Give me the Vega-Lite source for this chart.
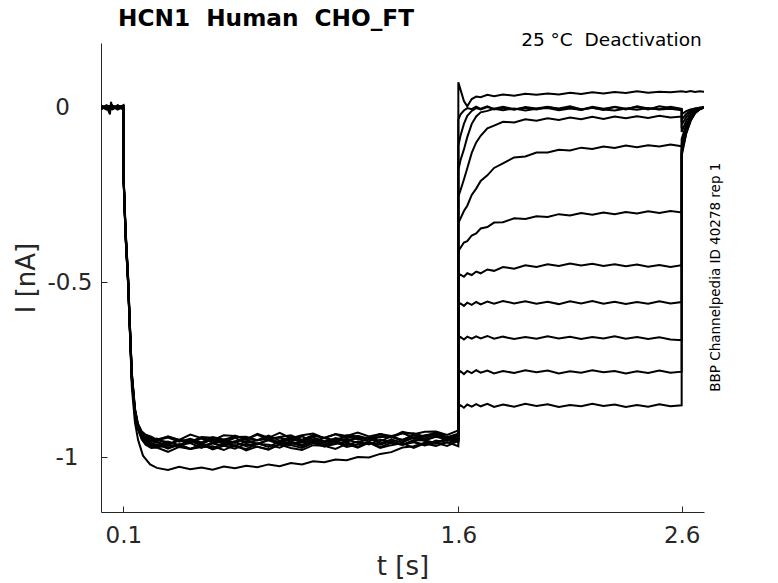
{
  "$schema": "https://vega.github.io/schema/vega-lite/v6.json",
  "width": 603,
  "height": 469,
  "autosize": {"type": "none"},
  "padding": {"left": 101, "top": 43, "right": 74, "bottom": 71},
  "background": "white",
  "layer": [
    {
      "data": {
        "values": [
          {"s":1,"t":0,"i":0.003},{"s":1,"t":0.025,"i":-0.004},{"s":1,"t":0.05,"i":0.005},{"s":1,"t":0.075,"i":-0.003},{"s":1,"t":0.1,"i":0.002},
          {"s":1,"t":0.1,"i":-0.18},{"s":1,"t":0.11,"i":-0.37},{"s":1,"t":0.121,"i":-0.5},{"s":1,"t":0.13,"i":-0.65},{"s":1,"t":0.138,"i":-0.8},{"s":1,"t":0.152,"i":-0.9},{"s":1,"t":0.166,"i":-0.95},{"s":1,"t":0.188,"i":-0.995},{"s":1,"t":0.22,"i":-1.02},
          {"s":1,"t":0.25,"i":-1.03},{"s":1,"t":0.3,"i":-1.036},{"s":1,"t":0.35,"i":-1.027},{"s":1,"t":0.4,"i":-1.034},{"s":1,"t":0.45,"i":-1.029},{"s":1,"t":0.5,"i":-1.035},{"s":1,"t":0.55,"i":-1.026},{"s":1,"t":0.6,"i":-1.031},{"s":1,"t":0.65,"i":-1.024},{"s":1,"t":0.7,"i":-1.028},{"s":1,"t":0.75,"i":-1.02},{"s":1,"t":0.8,"i":-1.025},{"s":1,"t":0.85,"i":-1.016},{"s":1,"t":0.9,"i":-1.02},{"s":1,"t":0.95,"i":-1.011},{"s":1,"t":1.0,"i":-1.014},{"s":1,"t":1.05,"i":-1.006},{"s":1,"t":1.1,"i":-1.008},{"s":1,"t":1.15,"i":-0.999},{"s":1,"t":1.2,"i":-1.0},{"s":1,"t":1.25,"i":-0.99},{"s":1,"t":1.3,"i":-0.985},{"s":1,"t":1.35,"i":-0.972},{"s":1,"t":1.4,"i":-0.968},{"s":1,"t":1.45,"i":-0.958},{"s":1,"t":1.5,"i":-0.956},{"s":1,"t":1.55,"i":-0.95},{"s":1,"t":1.6,"i":-0.948},
          {"s":1,"t":1.6,"i":0.072},{"s":1,"t":1.61,"i":0.05},{"s":1,"t":1.625,"i":0.018},{"s":1,"t":1.64,"i":0.003},{"s":1,"t":1.66,"i":0.024},{"s":1,"t":1.68,"i":0.031},{"s":1,"t":1.7,"i":0.029},{"s":1,"t":1.73,"i":0.036},{"s":1,"t":1.76,"i":0.032},{"s":1,"t":1.8,"i":0.037},{"s":1,"t":1.85,"i":0.033},{"s":1,"t":1.9,"i":0.039},{"s":1,"t":1.95,"i":0.036},{"s":1,"t":2.0,"i":0.04},{"s":1,"t":2.05,"i":0.037},{"s":1,"t":2.1,"i":0.042},{"s":1,"t":2.15,"i":0.038},{"s":1,"t":2.2,"i":0.043},{"s":1,"t":2.25,"i":0.04},{"s":1,"t":2.3,"i":0.044},{"s":1,"t":2.35,"i":0.041},{"s":1,"t":2.4,"i":0.046},{"s":1,"t":2.45,"i":0.042},{"s":1,"t":2.5,"i":0.045},{"s":1,"t":2.55,"i":0.043},{"s":1,"t":2.6,"i":0.046},{"s":1,"t":2.62,"i":0.044},{"s":1,"t":2.64,"i":0.047},{"s":1,"t":2.66,"i":0.044},{"s":1,"t":2.68,"i":0.046},{"s":1,"t":2.7,"i":0.045},

          {"s":2,"t":0,"i":0.002},{"s":2,"t":0.025,"i":-0.004},{"s":2,"t":0.05,"i":0.005},{"s":2,"t":0.075,"i":-0.002},{"s":2,"t":0.1,"i":0.001},
          {"s":2,"t":0.1,"i":-0.18},{"s":2,"t":0.11,"i":-0.36},{"s":2,"t":0.121,"i":-0.49},{"s":2,"t":0.13,"i":-0.645},{"s":2,"t":0.138,"i":-0.775},{"s":2,"t":0.152,"i":-0.875},{"s":2,"t":0.165,"i":-0.916},{"s":2,"t":0.182,"i":-0.943},{"s":2,"t":0.2,"i":-0.959},{"s":2,"t":0.225,"i":-0.967},
          {"s":2,"t":0.25,"i":-0.962},{"s":2,"t":0.3,"i":-0.975},{"s":2,"t":0.35,"i":-0.962},{"s":2,"t":0.4,"i":-0.976},{"s":2,"t":0.45,"i":-0.966},{"s":2,"t":0.5,"i":-0.974},{"s":2,"t":0.55,"i":-0.96},{"s":2,"t":0.6,"i":-0.969},{"s":2,"t":0.65,"i":-0.976},{"s":2,"t":0.7,"i":-0.961},{"s":2,"t":0.75,"i":-0.964},{"s":2,"t":0.8,"i":-0.972},{"s":2,"t":0.85,"i":-0.958},{"s":2,"t":0.9,"i":-0.968},{"s":2,"t":0.95,"i":-0.955},{"s":2,"t":1.0,"i":-0.969},{"s":2,"t":1.05,"i":-0.962},{"s":2,"t":1.1,"i":-0.956},{"s":2,"t":1.15,"i":-0.97},{"s":2,"t":1.2,"i":-0.957},{"s":2,"t":1.25,"i":-0.964},{"s":2,"t":1.3,"i":-0.953},{"s":2,"t":1.35,"i":-0.964},{"s":2,"t":1.4,"i":-0.957},{"s":2,"t":1.45,"i":-0.966},{"s":2,"t":1.5,"i":-0.952},{"s":2,"t":1.55,"i":-0.958},{"s":2,"t":1.6,"i":-0.952},
          {"s":2,"t":1.6,"i":-0.035},{"s":2,"t":1.61,"i":-0.02},{"s":2,"t":1.625,"i":-0.009},{"s":2,"t":1.64,"i":-0.002},{"s":2,"t":1.66,"i":-0.005},{"s":2,"t":1.68,"i":0.002},{"s":2,"t":1.7,"i":-0.004},{"s":2,"t":1.73,"i":0.003},{"s":2,"t":1.76,"i":-0.006},{"s":2,"t":1.8,"i":-0.001},{"s":2,"t":1.85,"i":-0.007},{"s":2,"t":1.9,"i":0.001},{"s":2,"t":1.95,"i":-0.003},{"s":2,"t":2.0,"i":0.002},{"s":2,"t":2.05,"i":-0.005},{"s":2,"t":2.1,"i":0.0},{"s":2,"t":2.15,"i":-0.007},{"s":2,"t":2.2,"i":0.002},{"s":2,"t":2.25,"i":-0.004},{"s":2,"t":2.3,"i":0.001},{"s":2,"t":2.35,"i":-0.006},{"s":2,"t":2.4,"i":0.003},{"s":2,"t":2.45,"i":-0.003},{"s":2,"t":2.5,"i":-0.005},{"s":2,"t":2.55,"i":0.002},{"s":2,"t":2.6,"i":-0.004},
          {"s":2,"t":2.6,"i":-0.02},{"s":2,"t":2.62,"i":-0.011},{"s":2,"t":2.64,"i":-0.006},{"s":2,"t":2.66,"i":-0.003},{"s":2,"t":2.68,"i":-0.001},{"s":2,"t":2.7,"i":0.0},

          {"s":3,"t":0,"i":-0.003},{"s":3,"t":0.025,"i":0.005},{"s":3,"t":0.05,"i":-0.004},{"s":3,"t":0.075,"i":0.006},{"s":3,"t":0.1,"i":-0.002},
          {"s":3,"t":0.1,"i":-0.175},{"s":3,"t":0.11,"i":-0.35},{"s":3,"t":0.121,"i":-0.48},{"s":3,"t":0.13,"i":-0.63},{"s":3,"t":0.138,"i":-0.76},{"s":3,"t":0.152,"i":-0.862},{"s":3,"t":0.165,"i":-0.905},{"s":3,"t":0.182,"i":-0.928},{"s":3,"t":0.2,"i":-0.939},{"s":3,"t":0.225,"i":-0.945},
          {"s":3,"t":0.25,"i":-0.952},{"s":3,"t":0.3,"i":-0.94},{"s":3,"t":0.35,"i":-0.95},{"s":3,"t":0.4,"i":-0.956},{"s":3,"t":0.45,"i":-0.942},{"s":3,"t":0.5,"i":-0.944},{"s":3,"t":0.55,"i":-0.953},{"s":3,"t":0.6,"i":-0.938},{"s":3,"t":0.65,"i":-0.949},{"s":3,"t":0.7,"i":-0.935},{"s":3,"t":0.75,"i":-0.95},{"s":3,"t":0.8,"i":-0.942},{"s":3,"t":0.85,"i":-0.937},{"s":3,"t":0.9,"i":-0.95},{"s":3,"t":0.95,"i":-0.938},{"s":3,"t":1.0,"i":-0.944},{"s":3,"t":1.05,"i":-0.934},{"s":3,"t":1.1,"i":-0.945},{"s":3,"t":1.15,"i":-0.938},{"s":3,"t":1.2,"i":-0.947},{"s":3,"t":1.25,"i":-0.933},{"s":3,"t":1.3,"i":-0.939},{"s":3,"t":1.35,"i":-0.932},{"s":3,"t":1.4,"i":-0.931},{"s":3,"t":1.45,"i":-0.941},{"s":3,"t":1.5,"i":-0.928},{"s":3,"t":1.55,"i":-0.942},{"s":3,"t":1.6,"i":-0.932},
          {"s":3,"t":1.6,"i":-0.11},{"s":3,"t":1.61,"i":-0.08},{"s":3,"t":1.625,"i":-0.047},{"s":3,"t":1.64,"i":-0.024},{"s":3,"t":1.66,"i":-0.01},{"s":3,"t":1.68,"i":-0.002},{"s":3,"t":1.7,"i":-0.006},{"s":3,"t":1.73,"i":0.001},{"s":3,"t":1.76,"i":-0.004},{"s":3,"t":1.8,"i":0.002},{"s":3,"t":1.85,"i":-0.005},{"s":3,"t":1.9,"i":-0.001},{"s":3,"t":1.95,"i":-0.006},{"s":3,"t":2.0,"i":0.001},{"s":3,"t":2.05,"i":-0.003},{"s":3,"t":2.1,"i":0.003},{"s":3,"t":2.15,"i":-0.005},{"s":3,"t":2.2,"i":-0.001},{"s":3,"t":2.25,"i":-0.007},{"s":3,"t":2.3,"i":0.002},{"s":3,"t":2.35,"i":-0.004},{"s":3,"t":2.4,"i":0.001},{"s":3,"t":2.45,"i":-0.006},{"s":3,"t":2.5,"i":0.003},{"s":3,"t":2.55,"i":-0.002},{"s":3,"t":2.6,"i":-0.005},
          {"s":3,"t":2.6,"i":-0.035},{"s":3,"t":2.62,"i":-0.019},{"s":3,"t":2.64,"i":-0.01},{"s":3,"t":2.66,"i":-0.004},{"s":3,"t":2.68,"i":-0.001},{"s":3,"t":2.7,"i":0.001},

          {"s":4,"t":0,"i":0.004},{"s":4,"t":0.025,"i":-0.002},{"s":4,"t":0.05,"i":-0.006},{"s":4,"t":0.075,"i":0.003},{"s":4,"t":0.1,"i":0.004},
          {"s":4,"t":0.1,"i":-0.18},{"s":4,"t":0.11,"i":-0.365},{"s":4,"t":0.121,"i":-0.495},{"s":4,"t":0.13,"i":-0.642},{"s":4,"t":0.138,"i":-0.772},{"s":4,"t":0.152,"i":-0.872},{"s":4,"t":0.165,"i":-0.912},{"s":4,"t":0.182,"i":-0.938},{"s":4,"t":0.2,"i":-0.952},{"s":4,"t":0.225,"i":-0.959},
          {"s":4,"t":0.25,"i":-0.967},{"s":4,"t":0.3,"i":-0.955},{"s":4,"t":0.35,"i":-0.966},{"s":4,"t":0.4,"i":-0.952},{"s":4,"t":0.45,"i":-0.967},{"s":4,"t":0.5,"i":-0.959},{"s":4,"t":0.55,"i":-0.954},{"s":4,"t":0.6,"i":-0.967},{"s":4,"t":0.65,"i":-0.955},{"s":4,"t":0.7,"i":-0.961},{"s":4,"t":0.75,"i":-0.951},{"s":4,"t":0.8,"i":-0.962},{"s":4,"t":0.85,"i":-0.955},{"s":4,"t":0.9,"i":-0.964},{"s":4,"t":0.95,"i":-0.95},{"s":4,"t":1.0,"i":-0.956},{"s":4,"t":1.05,"i":-0.95},{"s":4,"t":1.1,"i":-0.948},{"s":4,"t":1.15,"i":-0.959},{"s":4,"t":1.2,"i":-0.945},{"s":4,"t":1.25,"i":-0.96},{"s":4,"t":1.3,"i":-0.949},{"s":4,"t":1.35,"i":-0.957},{"s":4,"t":1.4,"i":-0.943},{"s":4,"t":1.45,"i":-0.952},{"s":4,"t":1.5,"i":-0.959},{"s":4,"t":1.55,"i":-0.944},{"s":4,"t":1.6,"i":-0.947},
          {"s":4,"t":1.6,"i":-0.18},{"s":4,"t":1.61,"i":-0.15},{"s":4,"t":1.625,"i":-0.12},{"s":4,"t":1.64,"i":-0.085},{"s":4,"t":1.66,"i":-0.047},{"s":4,"t":1.68,"i":-0.026},{"s":4,"t":1.7,"i":-0.014},{"s":4,"t":1.73,"i":-0.01},{"s":4,"t":1.76,"i":-0.004},{"s":4,"t":1.8,"i":-0.008},{"s":4,"t":1.85,"i":-0.003},{"s":4,"t":1.9,"i":-0.009},{"s":4,"t":1.95,"i":-0.004},{"s":4,"t":2.0,"i":-0.002},{"s":4,"t":2.05,"i":-0.008},{"s":4,"t":2.1,"i":-0.003},{"s":4,"t":2.15,"i":-0.007},{"s":4,"t":2.2,"i":-0.001},{"s":4,"t":2.25,"i":-0.006},{"s":4,"t":2.3,"i":-0.009},{"s":4,"t":2.35,"i":-0.003},{"s":4,"t":2.4,"i":-0.007},{"s":4,"t":2.45,"i":-0.002},{"s":4,"t":2.5,"i":-0.006},{"s":4,"t":2.55,"i":-0.004},{"s":4,"t":2.6,"i":-0.008},
          {"s":4,"t":2.6,"i":-0.05},{"s":4,"t":2.62,"i":-0.028},{"s":4,"t":2.64,"i":-0.014},{"s":4,"t":2.66,"i":-0.006},{"s":4,"t":2.68,"i":-0.002},{"s":4,"t":2.7,"i":0.0},

          {"s":5,"t":0,"i":-0.005},{"s":5,"t":0.025,"i":0.003},{"s":5,"t":0.04,"i":-0.02},{"s":5,"t":0.045,"i":0.016},{"s":5,"t":0.05,"i":-0.003},{"s":5,"t":0.075,"i":0.005},{"s":5,"t":0.1,"i":-0.003},
          {"s":5,"t":0.1,"i":-0.178},{"s":5,"t":0.11,"i":-0.355},{"s":5,"t":0.121,"i":-0.487},{"s":5,"t":0.13,"i":-0.636},{"s":5,"t":0.138,"i":-0.766},{"s":5,"t":0.152,"i":-0.867},{"s":5,"t":0.165,"i":-0.908},{"s":5,"t":0.182,"i":-0.932},{"s":5,"t":0.2,"i":-0.944},{"s":5,"t":0.225,"i":-0.951},
          {"s":5,"t":0.25,"i":-0.946},{"s":5,"t":0.3,"i":-0.962},{"s":5,"t":0.35,"i":-0.95},{"s":5,"t":0.4,"i":-0.956},{"s":5,"t":0.45,"i":-0.946},{"s":5,"t":0.5,"i":-0.957},{"s":5,"t":0.55,"i":-0.95},{"s":5,"t":0.6,"i":-0.959},{"s":5,"t":0.65,"i":-0.945},{"s":5,"t":0.7,"i":-0.951},{"s":5,"t":0.75,"i":-0.945},{"s":5,"t":0.8,"i":-0.943},{"s":5,"t":0.85,"i":-0.954},{"s":5,"t":0.9,"i":-0.94},{"s":5,"t":0.95,"i":-0.955},{"s":5,"t":1.0,"i":-0.944},{"s":5,"t":1.05,"i":-0.953},{"s":5,"t":1.1,"i":-0.938},{"s":5,"t":1.15,"i":-0.948},{"s":5,"t":1.2,"i":-0.954},{"s":5,"t":1.25,"i":-0.94},{"s":5,"t":1.3,"i":-0.942},{"s":5,"t":1.35,"i":-0.95},{"s":5,"t":1.4,"i":-0.936},{"s":5,"t":1.45,"i":-0.946},{"s":5,"t":1.5,"i":-0.933},{"s":5,"t":1.55,"i":-0.947},{"s":5,"t":1.6,"i":-0.94},
          {"s":5,"t":1.6,"i":-0.255},{"s":5,"t":1.61,"i":-0.236},{"s":5,"t":1.625,"i":-0.206},{"s":5,"t":1.64,"i":-0.174},{"s":5,"t":1.66,"i":-0.13},{"s":5,"t":1.68,"i":-0.1},{"s":5,"t":1.7,"i":-0.081},{"s":5,"t":1.73,"i":-0.06},{"s":5,"t":1.76,"i":-0.052},{"s":5,"t":1.8,"i":-0.041},{"s":5,"t":1.85,"i":-0.043},{"s":5,"t":1.9,"i":-0.034},{"s":5,"t":1.95,"i":-0.038},{"s":5,"t":2.0,"i":-0.031},{"s":5,"t":2.05,"i":-0.036},{"s":5,"t":2.1,"i":-0.029},{"s":5,"t":2.15,"i":-0.034},{"s":5,"t":2.2,"i":-0.027},{"s":5,"t":2.25,"i":-0.033},{"s":5,"t":2.3,"i":-0.026},{"s":5,"t":2.35,"i":-0.031},{"s":5,"t":2.4,"i":-0.025},{"s":5,"t":2.45,"i":-0.03},{"s":5,"t":2.5,"i":-0.024},{"s":5,"t":2.55,"i":-0.029},{"s":5,"t":2.6,"i":-0.026},
          {"s":5,"t":2.6,"i":-0.07},{"s":5,"t":2.62,"i":-0.039},{"s":5,"t":2.64,"i":-0.02},{"s":5,"t":2.66,"i":-0.009},{"s":5,"t":2.68,"i":-0.003},{"s":5,"t":2.7,"i":0.0},

          {"s":6,"t":0,"i":0.006},{"s":6,"t":0.025,"i":-0.005},{"s":6,"t":0.05,"i":0.002},{"s":6,"t":0.075,"i":-0.006},{"s":6,"t":0.1,"i":0.003},
          {"s":6,"t":0.1,"i":-0.185},{"s":6,"t":0.11,"i":-0.37},{"s":6,"t":0.121,"i":-0.5},{"s":6,"t":0.13,"i":-0.65},{"s":6,"t":0.138,"i":-0.78},{"s":6,"t":0.152,"i":-0.88},{"s":6,"t":0.165,"i":-0.919},{"s":6,"t":0.182,"i":-0.948},{"s":6,"t":0.2,"i":-0.964},{"s":6,"t":0.225,"i":-0.973},
          {"s":6,"t":0.25,"i":-0.972},{"s":6,"t":0.3,"i":-0.984},{"s":6,"t":0.35,"i":-0.97},{"s":6,"t":0.4,"i":-0.976},{"s":6,"t":0.45,"i":-0.97},{"s":6,"t":0.5,"i":-0.968},{"s":6,"t":0.55,"i":-0.979},{"s":6,"t":0.6,"i":-0.965},{"s":6,"t":0.65,"i":-0.98},{"s":6,"t":0.7,"i":-0.969},{"s":6,"t":0.75,"i":-0.978},{"s":6,"t":0.8,"i":-0.963},{"s":6,"t":0.85,"i":-0.973},{"s":6,"t":0.9,"i":-0.979},{"s":6,"t":0.95,"i":-0.965},{"s":6,"t":1.0,"i":-0.967},{"s":6,"t":1.05,"i":-0.976},{"s":6,"t":1.1,"i":-0.961},{"s":6,"t":1.15,"i":-0.972},{"s":6,"t":1.2,"i":-0.958},{"s":6,"t":1.25,"i":-0.973},{"s":6,"t":1.3,"i":-0.965},{"s":6,"t":1.35,"i":-0.959},{"s":6,"t":1.4,"i":-0.973},{"s":6,"t":1.45,"i":-0.96},{"s":6,"t":1.5,"i":-0.967},{"s":6,"t":1.55,"i":-0.956},{"s":6,"t":1.6,"i":-0.968},
          {"s":6,"t":1.6,"i":-0.33},{"s":6,"t":1.61,"i":-0.317},{"s":6,"t":1.625,"i":-0.296},{"s":6,"t":1.64,"i":-0.281},{"s":6,"t":1.66,"i":-0.25},{"s":6,"t":1.68,"i":-0.232},{"s":6,"t":1.7,"i":-0.21},{"s":6,"t":1.73,"i":-0.194},{"s":6,"t":1.76,"i":-0.173},{"s":6,"t":1.8,"i":-0.16},{"s":6,"t":1.85,"i":-0.143},{"s":6,"t":1.9,"i":-0.14},{"s":6,"t":1.95,"i":-0.129},{"s":6,"t":2.0,"i":-0.129},{"s":6,"t":2.05,"i":-0.121},{"s":6,"t":2.1,"i":-0.123},{"s":6,"t":2.15,"i":-0.115},{"s":6,"t":2.2,"i":-0.119},{"s":6,"t":2.25,"i":-0.112},{"s":6,"t":2.3,"i":-0.116},{"s":6,"t":2.35,"i":-0.109},{"s":6,"t":2.4,"i":-0.114},{"s":6,"t":2.45,"i":-0.108},{"s":6,"t":2.5,"i":-0.112},{"s":6,"t":2.55,"i":-0.106},{"s":6,"t":2.6,"i":-0.111},
          {"s":6,"t":2.6,"i":-0.09},{"s":6,"t":2.62,"i":-0.05},{"s":6,"t":2.64,"i":-0.026},{"s":6,"t":2.66,"i":-0.011},{"s":6,"t":2.68,"i":-0.004},{"s":6,"t":2.7,"i":0.0},

          {"s":7,"t":0,"i":-0.002},{"s":7,"t":0.025,"i":0.006},{"s":7,"t":0.05,"i":-0.003},{"s":7,"t":0.075,"i":0.004},{"s":7,"t":0.1,"i":-0.005},
          {"s":7,"t":0.1,"i":-0.172},{"s":7,"t":0.11,"i":-0.348},{"s":7,"t":0.121,"i":-0.478},{"s":7,"t":0.13,"i":-0.628},{"s":7,"t":0.138,"i":-0.758},{"s":7,"t":0.152,"i":-0.86},{"s":7,"t":0.165,"i":-0.903},{"s":7,"t":0.182,"i":-0.925},{"s":7,"t":0.2,"i":-0.935},{"s":7,"t":0.225,"i":-0.941},
          {"s":7,"t":0.25,"i":-0.949},{"s":7,"t":0.3,"i":-0.941},{"s":7,"t":0.35,"i":-0.95},{"s":7,"t":0.4,"i":-0.935},{"s":7,"t":0.45,"i":-0.945},{"s":7,"t":0.5,"i":-0.951},{"s":7,"t":0.55,"i":-0.937},{"s":7,"t":0.6,"i":-0.939},{"s":7,"t":0.65,"i":-0.948},{"s":7,"t":0.7,"i":-0.933},{"s":7,"t":0.75,"i":-0.944},{"s":7,"t":0.8,"i":-0.93},{"s":7,"t":0.85,"i":-0.945},{"s":7,"t":0.9,"i":-0.937},{"s":7,"t":0.95,"i":-0.932},{"s":7,"t":1.0,"i":-0.945},{"s":7,"t":1.05,"i":-0.933},{"s":7,"t":1.1,"i":-0.939},{"s":7,"t":1.15,"i":-0.929},{"s":7,"t":1.2,"i":-0.94},{"s":7,"t":1.25,"i":-0.933},{"s":7,"t":1.3,"i":-0.942},{"s":7,"t":1.35,"i":-0.927},{"s":7,"t":1.4,"i":-0.934},{"s":7,"t":1.45,"i":-0.927},{"s":7,"t":1.5,"i":-0.926},{"s":7,"t":1.55,"i":-0.936},{"s":7,"t":1.6,"i":-0.923},
          {"s":7,"t":1.6,"i":-0.41},{"s":7,"t":1.61,"i":-0.401},{"s":7,"t":1.625,"i":-0.386},{"s":7,"t":1.64,"i":-0.382},{"s":7,"t":1.66,"i":-0.366},{"s":7,"t":1.68,"i":-0.36},{"s":7,"t":1.7,"i":-0.346},{"s":7,"t":1.73,"i":-0.342},{"s":7,"t":1.76,"i":-0.329},{"s":7,"t":1.8,"i":-0.328},{"s":7,"t":1.85,"i":-0.317},{"s":7,"t":1.9,"i":-0.319},{"s":7,"t":1.95,"i":-0.311},{"s":7,"t":2.0,"i":-0.313},{"s":7,"t":2.05,"i":-0.305},{"s":7,"t":2.1,"i":-0.309},{"s":7,"t":2.15,"i":-0.302},{"s":7,"t":2.2,"i":-0.307},{"s":7,"t":2.25,"i":-0.3},{"s":7,"t":2.3,"i":-0.305},{"s":7,"t":2.35,"i":-0.299},{"s":7,"t":2.4,"i":-0.303},{"s":7,"t":2.45,"i":-0.297},{"s":7,"t":2.5,"i":-0.302},{"s":7,"t":2.55,"i":-0.296},{"s":7,"t":2.6,"i":-0.3},
          {"s":7,"t":2.6,"i":-0.105},{"s":7,"t":2.62,"i":-0.058},{"s":7,"t":2.64,"i":-0.029},{"s":7,"t":2.66,"i":-0.013},{"s":7,"t":2.68,"i":-0.004},{"s":7,"t":2.7,"i":0.0},

          {"s":8,"t":0,"i":0.003},{"s":8,"t":0.025,"i":-0.006},{"s":8,"t":0.05,"i":0.004},{"s":8,"t":0.075,"i":-0.001},{"s":8,"t":0.1,"i":0.005},
          {"s":8,"t":0.1,"i":-0.18},{"s":8,"t":0.11,"i":-0.36},{"s":8,"t":0.121,"i":-0.49},{"s":8,"t":0.13,"i":-0.64},{"s":8,"t":0.138,"i":-0.77},{"s":8,"t":0.152,"i":-0.87},{"s":8,"t":0.165,"i":-0.91},{"s":8,"t":0.182,"i":-0.935},{"s":8,"t":0.2,"i":-0.948},{"s":8,"t":0.225,"i":-0.955},
          {"s":8,"t":0.25,"i":-0.951},{"s":8,"t":0.3,"i":-0.956},{"s":8,"t":0.35,"i":-0.965},{"s":8,"t":0.4,"i":-0.95},{"s":8,"t":0.45,"i":-0.961},{"s":8,"t":0.5,"i":-0.947},{"s":8,"t":0.55,"i":-0.962},{"s":8,"t":0.6,"i":-0.954},{"s":8,"t":0.65,"i":-0.949},{"s":8,"t":0.7,"i":-0.962},{"s":8,"t":0.75,"i":-0.95},{"s":8,"t":0.8,"i":-0.956},{"s":8,"t":0.85,"i":-0.946},{"s":8,"t":0.9,"i":-0.957},{"s":8,"t":0.95,"i":-0.95},{"s":8,"t":1.0,"i":-0.959},{"s":8,"t":1.05,"i":-0.945},{"s":8,"t":1.1,"i":-0.951},{"s":8,"t":1.15,"i":-0.945},{"s":8,"t":1.2,"i":-0.943},{"s":8,"t":1.25,"i":-0.954},{"s":8,"t":1.3,"i":-0.94},{"s":8,"t":1.35,"i":-0.954},{"s":8,"t":1.4,"i":-0.944},{"s":8,"t":1.45,"i":-0.952},{"s":8,"t":1.5,"i":-0.938},{"s":8,"t":1.55,"i":-0.947},{"s":8,"t":1.6,"i":-0.954},
          {"s":8,"t":1.6,"i":-0.483},{"s":8,"t":1.61,"i":-0.478},{"s":8,"t":1.625,"i":-0.484},{"s":8,"t":1.64,"i":-0.474},{"s":8,"t":1.66,"i":-0.479},{"s":8,"t":1.68,"i":-0.469},{"s":8,"t":1.7,"i":-0.474},{"s":8,"t":1.73,"i":-0.463},{"s":8,"t":1.76,"i":-0.467},{"s":8,"t":1.8,"i":-0.456},{"s":8,"t":1.85,"i":-0.461},{"s":8,"t":1.9,"i":-0.451},{"s":8,"t":1.95,"i":-0.456},{"s":8,"t":2.0,"i":-0.448},{"s":8,"t":2.05,"i":-0.453},{"s":8,"t":2.1,"i":-0.446},{"s":8,"t":2.15,"i":-0.452},{"s":8,"t":2.2,"i":-0.447},{"s":8,"t":2.25,"i":-0.453},{"s":8,"t":2.3,"i":-0.448},{"s":8,"t":2.35,"i":-0.454},{"s":8,"t":2.4,"i":-0.449},{"s":8,"t":2.45,"i":-0.455},{"s":8,"t":2.5,"i":-0.45},{"s":8,"t":2.55,"i":-0.456},{"s":8,"t":2.6,"i":-0.451},
          {"s":8,"t":2.6,"i":-0.113},{"s":8,"t":2.62,"i":-0.062},{"s":8,"t":2.64,"i":-0.032},{"s":8,"t":2.66,"i":-0.014},{"s":8,"t":2.68,"i":-0.005},{"s":8,"t":2.7,"i":0.0},

          {"s":9,"t":0,"i":-0.004},{"s":9,"t":0.025,"i":0.002},{"s":9,"t":0.05,"i":0.006},{"s":9,"t":0.075,"i":-0.005},{"s":9,"t":0.1,"i":0.002},
          {"s":9,"t":0.1,"i":-0.182},{"s":9,"t":0.11,"i":-0.363},{"s":9,"t":0.121,"i":-0.493},{"s":9,"t":0.13,"i":-0.643},{"s":9,"t":0.138,"i":-0.773},{"s":9,"t":0.152,"i":-0.873},{"s":9,"t":0.165,"i":-0.914},{"s":9,"t":0.182,"i":-0.941},{"s":9,"t":0.2,"i":-0.955},{"s":9,"t":0.225,"i":-0.963},
          {"s":9,"t":0.25,"i":-0.955},{"s":9,"t":0.3,"i":-0.972},{"s":9,"t":0.35,"i":-0.965},{"s":9,"t":0.4,"i":-0.959},{"s":9,"t":0.45,"i":-0.973},{"s":9,"t":0.5,"i":-0.96},{"s":9,"t":0.55,"i":-0.967},{"s":9,"t":0.6,"i":-0.956},{"s":9,"t":0.65,"i":-0.968},{"s":9,"t":0.7,"i":-0.96},{"s":9,"t":0.75,"i":-0.97},{"s":9,"t":0.8,"i":-0.955},{"s":9,"t":0.85,"i":-0.962},{"s":9,"t":0.9,"i":-0.955},{"s":9,"t":0.95,"i":-0.954},{"s":9,"t":1.0,"i":-0.964},{"s":9,"t":1.05,"i":-0.951},{"s":9,"t":1.1,"i":-0.965},{"s":9,"t":1.15,"i":-0.955},{"s":9,"t":1.2,"i":-0.963},{"s":9,"t":1.25,"i":-0.949},{"s":9,"t":1.3,"i":-0.958},{"s":9,"t":1.35,"i":-0.964},{"s":9,"t":1.4,"i":-0.95},{"s":9,"t":1.45,"i":-0.952},{"s":9,"t":1.5,"i":-0.961},{"s":9,"t":1.55,"i":-0.946},{"s":9,"t":1.6,"i":-0.957},
          {"s":9,"t":1.6,"i":-0.565},{"s":9,"t":1.61,"i":-0.56},{"s":9,"t":1.625,"i":-0.567},{"s":9,"t":1.64,"i":-0.558},{"s":9,"t":1.66,"i":-0.564},{"s":9,"t":1.68,"i":-0.556},{"s":9,"t":1.7,"i":-0.563},{"s":9,"t":1.73,"i":-0.555},{"s":9,"t":1.76,"i":-0.561},{"s":9,"t":1.8,"i":-0.553},{"s":9,"t":1.85,"i":-0.56},{"s":9,"t":1.9,"i":-0.554},{"s":9,"t":1.95,"i":-0.561},{"s":9,"t":2.0,"i":-0.555},{"s":9,"t":2.05,"i":-0.562},{"s":9,"t":2.1,"i":-0.554},{"s":9,"t":2.15,"i":-0.56},{"s":9,"t":2.2,"i":-0.553},{"s":9,"t":2.25,"i":-0.561},{"s":9,"t":2.3,"i":-0.555},{"s":9,"t":2.35,"i":-0.562},{"s":9,"t":2.4,"i":-0.556},{"s":9,"t":2.45,"i":-0.561},{"s":9,"t":2.5,"i":-0.554},{"s":9,"t":2.55,"i":-0.56},{"s":9,"t":2.6,"i":-0.556},
          {"s":9,"t":2.6,"i":-0.12},{"s":9,"t":2.62,"i":-0.066},{"s":9,"t":2.64,"i":-0.034},{"s":9,"t":2.66,"i":-0.014},{"s":9,"t":2.68,"i":-0.005},{"s":9,"t":2.7,"i":0.001},

          {"s":10,"t":0,"i":0.005},{"s":10,"t":0.025,"i":-0.003},{"s":10,"t":0.05,"i":-0.002},{"s":10,"t":0.075,"i":0.006},{"s":10,"t":0.1,"i":-0.004},
          {"s":10,"t":0.1,"i":-0.176},{"s":10,"t":0.11,"i":-0.353},{"s":10,"t":0.121,"i":-0.484},{"s":10,"t":0.13,"i":-0.633},{"s":10,"t":0.138,"i":-0.763},{"s":10,"t":0.152,"i":-0.865},{"s":10,"t":0.165,"i":-0.906},{"s":10,"t":0.182,"i":-0.93},{"s":10,"t":0.2,"i":-0.941},{"s":10,"t":0.225,"i":-0.947},
          {"s":10,"t":0.25,"i":-0.951},{"s":10,"t":0.3,"i":-0.943},{"s":10,"t":0.35,"i":-0.955},{"s":10,"t":0.4,"i":-0.947},{"s":10,"t":0.45,"i":-0.957},{"s":10,"t":0.5,"i":-0.942},{"s":10,"t":0.55,"i":-0.949},{"s":10,"t":0.6,"i":-0.942},{"s":10,"t":0.65,"i":-0.941},{"s":10,"t":0.7,"i":-0.951},{"s":10,"t":0.75,"i":-0.938},{"s":10,"t":0.8,"i":-0.952},{"s":10,"t":0.85,"i":-0.942},{"s":10,"t":0.9,"i":-0.95},{"s":10,"t":0.95,"i":-0.936},{"s":10,"t":1.0,"i":-0.945},{"s":10,"t":1.05,"i":-0.952},{"s":10,"t":1.1,"i":-0.937},{"s":10,"t":1.15,"i":-0.94},{"s":10,"t":1.2,"i":-0.948},{"s":10,"t":1.25,"i":-0.934},{"s":10,"t":1.3,"i":-0.944},{"s":10,"t":1.35,"i":-0.93},{"s":10,"t":1.4,"i":-0.945},{"s":10,"t":1.45,"i":-0.937},{"s":10,"t":1.5,"i":-0.932},{"s":10,"t":1.55,"i":-0.945},{"s":10,"t":1.6,"i":-0.933},
          {"s":10,"t":1.6,"i":-0.662},{"s":10,"t":1.61,"i":-0.656},{"s":10,"t":1.625,"i":-0.663},{"s":10,"t":1.64,"i":-0.655},{"s":10,"t":1.66,"i":-0.661},{"s":10,"t":1.68,"i":-0.654},{"s":10,"t":1.7,"i":-0.66},{"s":10,"t":1.73,"i":-0.653},{"s":10,"t":1.76,"i":-0.661},{"s":10,"t":1.8,"i":-0.655},{"s":10,"t":1.85,"i":-0.662},{"s":10,"t":1.9,"i":-0.656},{"s":10,"t":1.95,"i":-0.661},{"s":10,"t":2.0,"i":-0.654},{"s":10,"t":2.05,"i":-0.66},{"s":10,"t":2.1,"i":-0.655},{"s":10,"t":2.15,"i":-0.662},{"s":10,"t":2.2,"i":-0.656},{"s":10,"t":2.25,"i":-0.66},{"s":10,"t":2.3,"i":-0.654},{"s":10,"t":2.35,"i":-0.661},{"s":10,"t":2.4,"i":-0.656},{"s":10,"t":2.45,"i":-0.662},{"s":10,"t":2.5,"i":-0.657},{"s":10,"t":2.55,"i":-0.663},{"s":10,"t":2.6,"i":-0.665},
          {"s":10,"t":2.6,"i":-0.126},{"s":10,"t":2.62,"i":-0.069},{"s":10,"t":2.64,"i":-0.035},{"s":10,"t":2.66,"i":-0.015},{"s":10,"t":2.68,"i":-0.005},{"s":10,"t":2.7,"i":0.0},

          {"s":11,"t":0,"i":-0.006},{"s":11,"t":0.025,"i":0.004},{"s":11,"t":0.05,"i":0.003},{"s":11,"t":0.075,"i":-0.003},{"s":11,"t":0.1,"i":0.006},
          {"s":11,"t":0.1,"i":-0.184},{"s":11,"t":0.11,"i":-0.367},{"s":11,"t":0.121,"i":-0.497},{"s":11,"t":0.13,"i":-0.647},{"s":11,"t":0.138,"i":-0.777},{"s":11,"t":0.152,"i":-0.877},{"s":11,"t":0.165,"i":-0.917},{"s":11,"t":0.182,"i":-0.945},{"s":11,"t":0.2,"i":-0.961},{"s":11,"t":0.225,"i":-0.969},
          {"s":11,"t":0.25,"i":-0.971},{"s":11,"t":0.3,"i":-0.967},{"s":11,"t":0.35,"i":-0.966},{"s":11,"t":0.4,"i":-0.976},{"s":11,"t":0.45,"i":-0.963},{"s":11,"t":0.5,"i":-0.977},{"s":11,"t":0.55,"i":-0.967},{"s":11,"t":0.6,"i":-0.975},{"s":11,"t":0.65,"i":-0.961},{"s":11,"t":0.7,"i":-0.97},{"s":11,"t":0.75,"i":-0.977},{"s":11,"t":0.8,"i":-0.962},{"s":11,"t":0.85,"i":-0.965},{"s":11,"t":0.9,"i":-0.973},{"s":11,"t":0.95,"i":-0.959},{"s":11,"t":1.0,"i":-0.969},{"s":11,"t":1.05,"i":-0.956},{"s":11,"t":1.1,"i":-0.97},{"s":11,"t":1.15,"i":-0.963},{"s":11,"t":1.2,"i":-0.957},{"s":11,"t":1.25,"i":-0.971},{"s":11,"t":1.3,"i":-0.958},{"s":11,"t":1.35,"i":-0.964},{"s":11,"t":1.4,"i":-0.954},{"s":11,"t":1.45,"i":-0.965},{"s":11,"t":1.5,"i":-0.958},{"s":11,"t":1.55,"i":-0.967},{"s":11,"t":1.6,"i":-0.953},
          {"s":11,"t":1.6,"i":-0.76},{"s":11,"t":1.61,"i":-0.754},{"s":11,"t":1.625,"i":-0.762},{"s":11,"t":1.64,"i":-0.753},{"s":11,"t":1.66,"i":-0.759},{"s":11,"t":1.68,"i":-0.751},{"s":11,"t":1.7,"i":-0.758},{"s":11,"t":1.73,"i":-0.752},{"s":11,"t":1.76,"i":-0.76},{"s":11,"t":1.8,"i":-0.753},{"s":11,"t":1.85,"i":-0.759},{"s":11,"t":1.9,"i":-0.751},{"s":11,"t":1.95,"i":-0.757},{"s":11,"t":2.0,"i":-0.752},{"s":11,"t":2.05,"i":-0.76},{"s":11,"t":2.1,"i":-0.754},{"s":11,"t":2.15,"i":-0.758},{"s":11,"t":2.2,"i":-0.751},{"s":11,"t":2.25,"i":-0.757},{"s":11,"t":2.3,"i":-0.753},{"s":11,"t":2.35,"i":-0.76},{"s":11,"t":2.4,"i":-0.754},{"s":11,"t":2.45,"i":-0.759},{"s":11,"t":2.5,"i":-0.752},{"s":11,"t":2.55,"i":-0.758},{"s":11,"t":2.6,"i":-0.755},
          {"s":11,"t":2.6,"i":-0.132},{"s":11,"t":2.62,"i":-0.073},{"s":11,"t":2.64,"i":-0.037},{"s":11,"t":2.66,"i":-0.016},{"s":11,"t":2.68,"i":-0.005},{"s":11,"t":2.7,"i":-0.001},

          {"s":12,"t":0,"i":0.001},{"s":12,"t":0.025,"i":0.005},{"s":12,"t":0.05,"i":-0.005},{"s":12,"t":0.075,"i":0.002},{"s":12,"t":0.1,"i":-0.006},
          {"s":12,"t":0.1,"i":-0.179},{"s":12,"t":0.11,"i":-0.358},{"s":12,"t":0.121,"i":-0.489},{"s":12,"t":0.13,"i":-0.638},{"s":12,"t":0.138,"i":-0.768},{"s":12,"t":0.152,"i":-0.869},{"s":12,"t":0.165,"i":-0.909},{"s":12,"t":0.182,"i":-0.933},{"s":12,"t":0.2,"i":-0.946},{"s":12,"t":0.225,"i":-0.953},
          {"s":12,"t":0.25,"i":-0.956},{"s":12,"t":0.3,"i":-0.965},{"s":12,"t":0.35,"i":-0.951},{"s":12,"t":0.4,"i":-0.953},{"s":12,"t":0.45,"i":-0.962},{"s":12,"t":0.5,"i":-0.947},{"s":12,"t":0.55,"i":-0.958},{"s":12,"t":0.6,"i":-0.944},{"s":12,"t":0.65,"i":-0.959},{"s":12,"t":0.7,"i":-0.951},{"s":12,"t":0.75,"i":-0.946},{"s":12,"t":0.8,"i":-0.959},{"s":12,"t":0.85,"i":-0.947},{"s":12,"t":0.9,"i":-0.953},{"s":12,"t":0.95,"i":-0.943},{"s":12,"t":1.0,"i":-0.954},{"s":12,"t":1.05,"i":-0.947},{"s":12,"t":1.1,"i":-0.956},{"s":12,"t":1.15,"i":-0.942},{"s":12,"t":1.2,"i":-0.948},{"s":12,"t":1.25,"i":-0.942},{"s":12,"t":1.3,"i":-0.94},{"s":12,"t":1.35,"i":-0.95},{"s":12,"t":1.4,"i":-0.937},{"s":12,"t":1.45,"i":-0.951},{"s":12,"t":1.5,"i":-0.941},{"s":12,"t":1.55,"i":-0.949},{"s":12,"t":1.6,"i":-0.935},
          {"s":12,"t":1.6,"i":-0.857},{"s":12,"t":1.61,"i":-0.851},{"s":12,"t":1.625,"i":-0.858},{"s":12,"t":1.64,"i":-0.849},{"s":12,"t":1.66,"i":-0.855},{"s":12,"t":1.68,"i":-0.848},{"s":12,"t":1.7,"i":-0.854},{"s":12,"t":1.73,"i":-0.847},{"s":12,"t":1.76,"i":-0.856},{"s":12,"t":1.8,"i":-0.849},{"s":12,"t":1.85,"i":-0.855},{"s":12,"t":1.9,"i":-0.847},{"s":12,"t":1.95,"i":-0.853},{"s":12,"t":2.0,"i":-0.848},{"s":12,"t":2.05,"i":-0.856},{"s":12,"t":2.1,"i":-0.85},{"s":12,"t":2.15,"i":-0.854},{"s":12,"t":2.2,"i":-0.847},{"s":12,"t":2.25,"i":-0.853},{"s":12,"t":2.3,"i":-0.849},{"s":12,"t":2.35,"i":-0.856},{"s":12,"t":2.4,"i":-0.85},{"s":12,"t":2.45,"i":-0.855},{"s":12,"t":2.5,"i":-0.848},{"s":12,"t":2.55,"i":-0.854},{"s":12,"t":2.6,"i":-0.851},
          {"s":12,"t":2.6,"i":-0.138},{"s":12,"t":2.62,"i":-0.076},{"s":12,"t":2.64,"i":-0.039},{"s":12,"t":2.66,"i":-0.017},{"s":12,"t":2.68,"i":-0.006},{"s":12,"t":2.7,"i":0.0}
        ]
      },
      "mark": {"type": "line", "color": "#000000", "strokeWidth": 2, "clip": true},
      "encoding": {
        "x": {
          "field": "t",
          "type": "quantitative",
          "scale": {"domain": [0, 2.7], "nice": false, "zero": false},
          "axis": {
            "values": [0.1, 1.6, 2.6],
            "labelExpr": "toString(datum.value)",
            "labelFlush": false,
            "tickSize": -6,
            "labelPadding": 18,
            "title": "t [s]",
            "titleX": 301.5,
            "titleY": 62,
            "titleBaseline": "alphabetic"
          }
        },
        "y": {
          "field": "i",
          "type": "quantitative",
          "scale": {"domain": [-1.156, 0.184], "nice": false, "zero": false},
          "axis": {
            "values": [-1, -0.5, 0],
            "labelExpr": "toString(datum.value)",
            "labelAlign": "center",
            "labelBaseline": "middle",
            "tickSize": -6,
            "labelPadding": {
              "condition": [
                {"test": "datum.value === 0", "value": 45},
                {"test": "datum.value === -1", "value": 40.5}
              ],
              "value": 37.5
            },
            "title": "I [nA]",
            "titleX": -67,
            "titleY": 234.5,
            "titleAngle": 270,
            "titleAlign": "center",
            "titleBaseline": "alphabetic"
          }
        },
        "detail": {"field": "s", "type": "nominal"},
        "order": {"value": null}
      }
    },
    {
      "data": {"values": [{}]},
      "mark": {"type": "text", "text": "HCN1\u00a0\u00a0Human\u00a0\u00a0CHO_FT", "align": "left", "baseline": "alphabetic", "font": "DejaVu Sans", "fontSize": 23.2, "fontWeight": "bold", "color": "#000000"},
      "encoding": {"x": {"datum": 0.0766, "type": "quantitative"}, "y": {"datum": 0.2334, "type": "quantitative"}}
    },
    {
      "data": {"values": [{}]},
      "mark": {"type": "text", "text": "25 °C\u00a0\u00a0Deactivation", "align": "right", "baseline": "alphabetic", "font": "DejaVu Sans", "fontSize": 18.5, "color": "#000000"},
      "encoding": {"x": {"datum": 2.69, "type": "quantitative"}, "y": {"datum": 0.175, "type": "quantitative"}}
    },
    {
      "data": {"values": [{}]},
      "mark": {"type": "text", "text": "BBP Channelpedia ID 40278 rep 1", "align": "center", "baseline": "middle", "angle": 270, "font": "DejaVu Sans", "fontSize": 13.5, "color": "#000000"},
      "encoding": {"x": {"datum": 2.753, "type": "quantitative"}, "y": {"datum": -0.485, "type": "quantitative"}}
    }
  ],
  "config": {
    "view": {"stroke": null},
    "font": "DejaVu Sans",
    "axis": {
      "grid": false,
      "domainColor": "#262626",
      "tickColor": "#262626",
      "labelColor": "#262626",
      "titleColor": "#262626",
      "labelFont": "DejaVu Sans",
      "titleFont": "DejaVu Sans",
      "labelFontSize": 23,
      "titleFontSize": 26,
      "titleFontWeight": "normal",
      "domainWidth": 1,
      "tickWidth": 1
    }
  }
}
